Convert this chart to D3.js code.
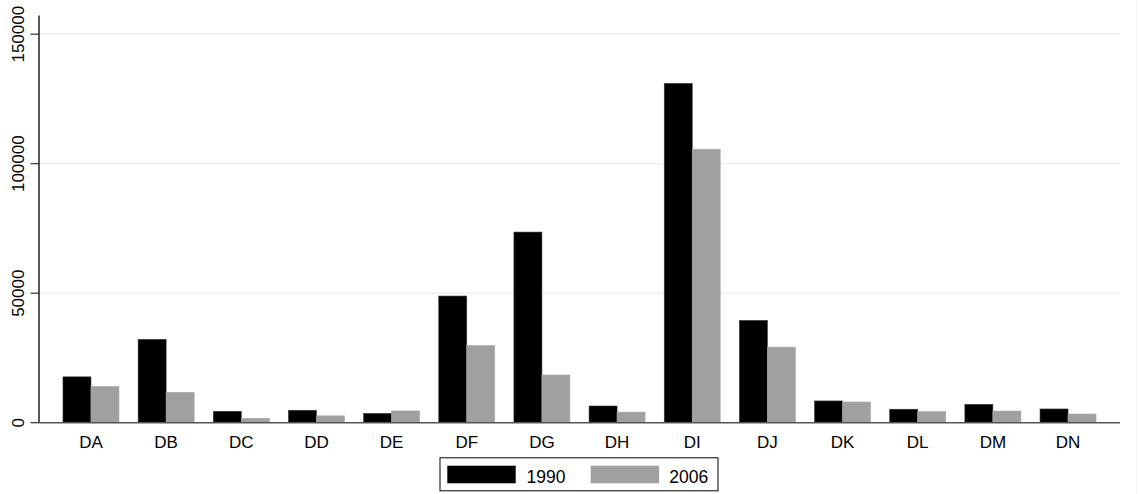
<!DOCTYPE html>
<html>
<head>
<meta charset="utf-8">
<script src="https://cdn.jsdelivr.net/npm/d3@7"></script>
<style>
  html, body { margin: 0; padding: 0; background: #fff; }
  svg { display: block; font-family: "Liberation Sans", Arial, Helvetica, sans-serif; }
</style>
</head>
<body>
<svg id="chart" width="1139" height="494"></svg>
<script>
// Industry groups and their values for the two years
const categories = ["DA","DB","DC","DD","DE","DF","DG","DH","DI","DJ","DK","DL","DM","DN"];
const years = ["1990", "2006"];
const values1990 = [17700, 32200, 4400, 4800, 3600, 48900, 73600, 6450, 131000, 39500, 8400, 5200, 7100, 5300];
const values2006 = [14000, 11700, 1700, 2650, 4550, 29800, 18400, 4100, 105600, 29200, 8000, 4250, 4500, 3350];
const yTicks = [0, 50000, 100000, 150000];

const series = [
  { year: years[0], values: values1990, color: "#000000", edge: "#3a3a3a" },
  { year: years[1], values: values2006, color: "#a0a0a0", edge: "#a8a8a8" }
];

const svg = d3.select("#chart");
const W = 1139, H = 494;
const left = 39, right = 1120, bottom = 422.7, axisTop = 15.6;

const x = d3.scaleBand()
  .domain(categories)
  .range([left, right])
  .paddingInner(0.255)
  .paddingOuter(0.319);

const xs = d3.scaleBand()
  .domain(years)
  .range([0, x.bandwidth()])
  .padding(0);

const y = d3.scaleLinear()
  .domain([0, 150000])
  .range([bottom, 34.2]);

// faint outer frame edge on the right
svg.append("line")
  .attr("x1", 1136.5).attr("x2", 1136.5)
  .attr("y1", 0).attr("y2", H)
  .attr("stroke", "#eef4f5").attr("stroke-width", 1);

// horizontal grid lines
svg.append("g").selectAll("line")
  .data(yTicks.filter(d => d > 0))
  .join("line")
  .attr("x1", left).attr("x2", right)
  .attr("y1", d => y(d)).attr("y2", d => y(d))
  .attr("stroke", "#e7eff0").attr("stroke-width", 1.2);

// bars
const groups = svg.append("g").selectAll("g")
  .data(categories)
  .join("g")
  .attr("transform", d => `translate(${x(d)},0)`);

groups.selectAll("rect")
  .data((d, i) => series.map(s => ({ year: s.year, value: s.values[i], color: s.color, edge: s.edge })))
  .join("rect")
  .attr("x", d => xs(d.year))
  .attr("width", xs.bandwidth())
  .attr("y", d => y(d.value))
  .attr("height", d => y(0) - y(d.value))
  .attr("fill", d => d.color)
  .attr("stroke", d => d.edge)
  .attr("stroke-width", 0.6);

// y axis
const yAxis = svg.append("g");
yAxis.append("line")
  .attr("x1", left).attr("x2", left)
  .attr("y1", axisTop).attr("y2", bottom)
  .attr("stroke", "#000").attr("stroke-width", 1.3);
yAxis.selectAll("line.tick")
  .data(yTicks)
  .join("line")
  .attr("class", "tick")
  .attr("x1", 30.5).attr("x2", left)
  .attr("y1", d => y(d)).attr("y2", d => y(d))
  .attr("stroke", "#333").attr("stroke-width", 1.2);
yAxis.selectAll("text")
  .data(yTicks)
  .join("text")
  .attr("x", 24).attr("y", d => y(d))
  .attr("transform", d => `rotate(-90,24,${y(d)})`)
  .attr("text-anchor", "middle")
  .attr("font-size", 17)
  .attr("fill", "#000")
  .text(d => d3.format("d")(d));

// x axis baseline
svg.append("line")
  .attr("x1", left).attr("x2", right)
  .attr("y1", bottom).attr("y2", bottom)
  .attr("stroke", "#555").attr("stroke-width", 1.5);

// category labels
svg.append("g").selectAll("text")
  .data(categories)
  .join("text")
  .attr("x", d => x(d) + x.bandwidth() / 2)
  .attr("y", 447.5)
  .attr("text-anchor", "middle")
  .attr("font-size", 17)
  .attr("fill", "#000")
  .text(d => d);

// legend
const legend = svg.append("g");
legend.append("rect")
  .attr("x", 440).attr("y", 457.8)
  .attr("width", 278).attr("height", 33)
  .attr("fill", "#fff").attr("stroke", "#000").attr("stroke-width", 1);
const legendItems = [
  { swatchX: 447.3, textX: 526.5 },
  { swatchX: 590.7, textX: 669.3 }
];
series.forEach((s, i) => {
  legend.append("rect")
    .attr("x", legendItems[i].swatchX).attr("y", 465.7)
    .attr("width", 68.4).attr("height", 17.6)
    .attr("fill", s.color);
  legend.append("text")
    .attr("x", legendItems[i].textX).attr("y", 483.3)
    .attr("font-size", 17.5)
    .attr("fill", "#000")
    .text(s.year);
});
</script>
</body>
</html>
